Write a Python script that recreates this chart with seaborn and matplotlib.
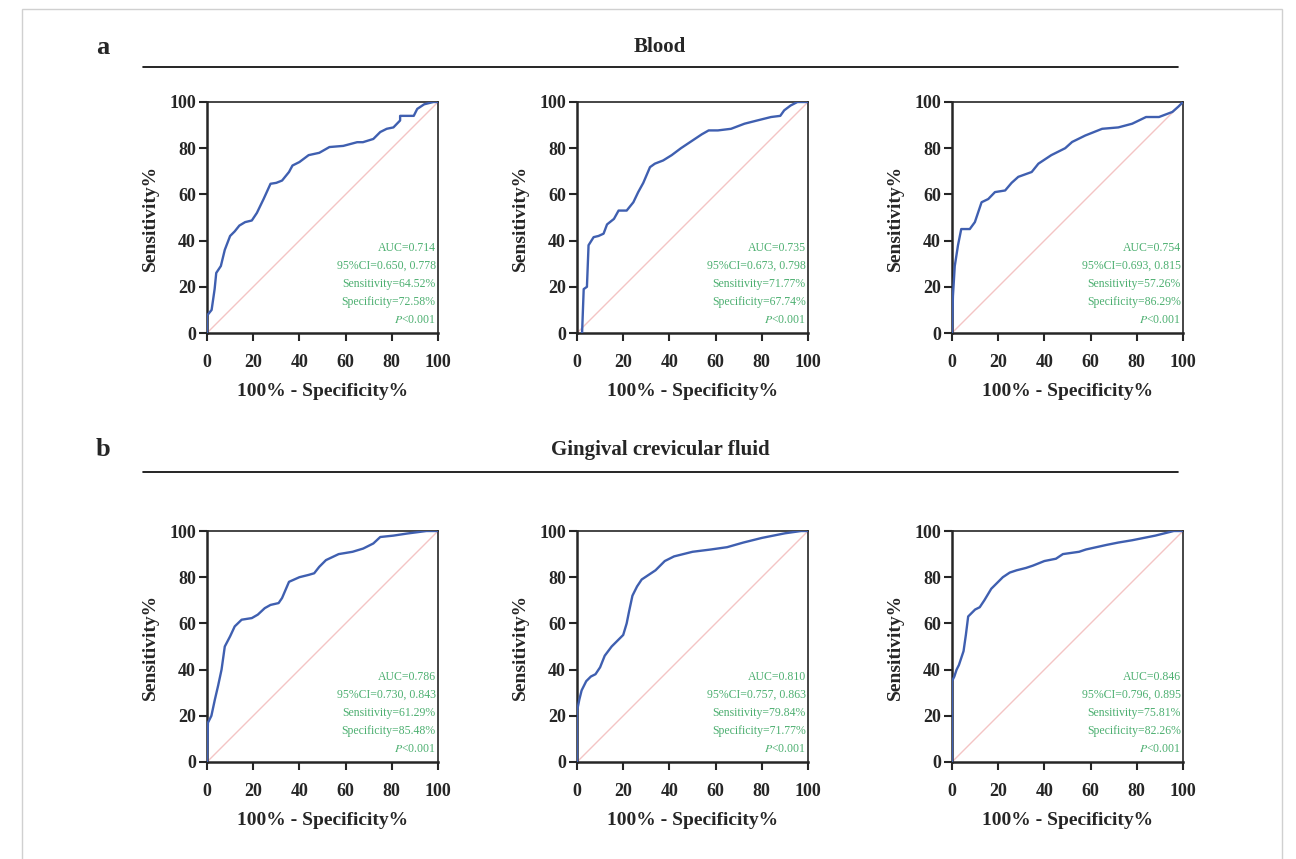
"""
ROC curves for blood and gingival crevicular fluid markers.
"""

import matplotlib
matplotlib.use("Agg")
import matplotlib.pyplot as plt
import pandas as pd
import seaborn as sns

# ---- data (x = 100% - specificity%, y = sensitivity%) ----
BLOOD_1_X = [0, 0, 2, 3.3, 4, 6, 7.7, 10, 12, 14, 16.5, 19.4, 21.6, 24.5, 27.5, 30, 32.5, 35.5, 37,
             40, 44, 48.6, 53, 59, 65, 67.5, 72, 75, 77.8, 80.7, 83.6, 83.6, 89.5, 91, 94, 98, 100]
BLOOD_1_Y = [0, 7.5, 10, 19, 26, 29, 36, 42, 44, 46.5, 48, 48.7, 52, 58, 64.6, 65, 66, 69.7, 72.5,
             74, 77, 78, 80.5, 81, 82.6, 82.6, 84, 87, 88.4, 89, 92, 94, 94, 97, 99, 100, 100]

BLOOD_2_X = [2.2, 2.9, 4.3, 5, 7.2, 9.3, 11.5, 13, 16, 18, 21.5, 24.4, 26.5, 28.7, 31.6, 33.7, 37.3,
             41, 45, 49.5, 54, 57, 61, 66.7, 72.5, 78, 84, 88, 89.7, 92.5, 95.4, 100]
BLOOD_2_Y = [0, 19, 20, 38, 41.5, 42, 43, 47, 49.4, 53, 53, 56.6, 61, 65, 71.8, 73.3, 74.7,
             77, 80, 83, 86, 87.7, 87.7, 88.4, 90.6, 92, 93.5, 94, 96.4, 98.5, 100, 100]

BLOOD_3_X = [0, 0.4, 1.2, 2.6, 4, 7.7, 9.9, 12.8, 15.7, 18.6, 23, 25.8, 28.7, 34.5, 37.4, 43, 49,
             52, 57.7, 65, 72, 78, 84, 89.6, 95.4, 98, 100]
BLOOD_3_Y = [0, 16, 29, 38, 45, 45, 48, 56.6, 58, 61, 61.7, 65, 67.6, 69.7, 73.3, 77, 80,
             82.7, 85.5, 88.4, 89, 90.6, 93.5, 93.5, 95.7, 98, 100]

GCF_1_X = [0, 0.4, 1.9, 3.4, 4.8, 6.3, 7.7, 10, 12, 15, 19.4, 22, 25, 27.5, 31, 32.5, 35.5, 40, 44,
           46.4, 48.6, 51.5, 57, 63, 67.6, 72, 75, 80.7, 86.6, 95, 100]
GCF_1_Y = [0, 17, 20, 27, 33, 40, 50, 54.4, 58.7, 61.6, 62.3, 63.8, 66.6, 68, 68.8, 71, 78, 80, 81,
           81.7, 84.5, 87.4, 90, 91, 92.4, 94.6, 97.4, 98, 98.9, 100, 100]

GCF_2_X = [0, 0, 1, 2, 4, 6, 8, 10, 12, 15, 18, 20, 21.5, 22.5, 24, 26, 28, 31, 34, 38, 42, 46,
           50, 58, 65, 72, 80, 90, 97, 100]
GCF_2_Y = [0, 22, 27, 31, 35, 37, 38, 41, 46, 50, 53, 55, 60, 65, 72, 76, 79, 81, 83, 87, 89, 90,
           91, 92, 93, 95, 97, 99, 100, 100]

GCF_3_X = [0, 0, 1, 2, 3, 4, 5, 6, 7, 10, 12, 14, 17, 20, 22, 25, 28, 32, 35, 40, 45, 48, 55, 58,
           67, 72, 78, 88, 96, 100]
GCF_3_Y = [0, 35, 37, 40, 42, 45, 48, 55, 63, 66, 67, 70, 75, 78, 80, 82, 83, 84, 85, 87, 88, 90,
           91, 92, 94, 95, 96, 98, 100, 100]

STATS = [
    ["AUC=0.714", "95%CI=0.650, 0.778", "Sensitivity=64.52%", "Specificity=72.58%"],
    ["AUC=0.735", "95%CI=0.673, 0.798", "Sensitivity=71.77%", "Specificity=67.74%"],
    ["AUC=0.754", "95%CI=0.693, 0.815", "Sensitivity=57.26%", "Specificity=86.29%"],
    ["AUC=0.786", "95%CI=0.730, 0.843", "Sensitivity=61.29%", "Specificity=85.48%"],
    ["AUC=0.810", "95%CI=0.757, 0.863", "Sensitivity=79.84%", "Specificity=71.77%"],
    ["AUC=0.846", "95%CI=0.796, 0.895", "Sensitivity=75.81%", "Specificity=82.26%"],
]
P_TEXT = "$\\it{P}$<0.001"

CURVES = [(BLOOD_1_X, BLOOD_1_Y), (BLOOD_2_X, BLOOD_2_Y), (BLOOD_3_X, BLOOD_3_Y),
          (GCF_1_X, GCF_1_Y), (GCF_2_X, GCF_2_Y), (GCF_3_X, GCF_3_Y)]
TICKS = [0, 20, 40, 60, 80, 100]

LINE_COLOR = "#3f5fb0"
DIAG_COLOR = "#f4c4c4"
TEXT_GREEN = "#4caf70"

sns.set_style("ticks")
plt.rcParams["font.family"] = ["Liberation Serif", "DejaVu Serif"]
plt.rcParams["mathtext.fontset"] = "stix"

fig = plt.figure(figsize=(12.96, 8.59), dpi=100)
W, H = 1296.0, 859.0

lefts = [207, 577, 952]
bottoms = [333, 762]
size = 231

for i, (xs, ys) in enumerate(CURVES):
    row, col = divmod(i, 3)
    ax = fig.add_axes([lefts[col] / W, 1 - bottoms[row] / H, size / W, size / H])
    ax.plot([0, 100], [0, 100], color=DIAG_COLOR, lw=1.0, zorder=1)
    df = pd.DataFrame({"x": xs, "y": ys})
    sns.lineplot(data=df, x="x", y="y", sort=False, estimator=None,
                 color=LINE_COLOR, lw=1.7, ax=ax, zorder=3)
    ax.set_xlim(0, 100)
    ax.set_ylim(0, 100)
    ax.set_xticks(TICKS)
    ax.set_yticks(TICKS)
    ax.set_xticklabels([str(t) for t in TICKS], fontweight="bold", fontsize=13)
    ax.set_yticklabels([str(t) for t in TICKS], fontweight="bold", fontsize=13)
    ax.set_xlabel("100% - Specificity%", fontweight="bold", fontsize=14, labelpad=9)
    ax.set_ylabel("Sensitivity%", fontweight="bold", fontsize=14, labelpad=7)
    for side in ["left", "bottom"]:
        ax.spines[side].set_linewidth(1.8)
    for side in ["top", "right"]:
        ax.spines[side].set_linewidth(1.2)
    ax.tick_params(width=1.5, length=6, direction="out", pad=2)
    ax.tick_params(axis="x", pad=9)

    lines = STATS[i] + [P_TEXT]
    for k, txt in enumerate(lines):
        ax.text(99, 37 - k * 7.8, txt, color=TEXT_GREEN, fontsize=8.5,
                ha="right", va="center", zorder=4)

# section headers
for label, title, y_lab, y_line in [("a", "Blood", 47, 67), ("b", "Gingival crevicular fluid", 450, 472)]:
    fig.text(96 / W, 1 - y_lab / H, label, fontsize=19, fontweight="bold", va="center")
    fig.text(660 / W, 1 - y_lab / H, title, fontsize=15, fontweight="bold", ha="center", va="center")
    fig.add_artist(plt.Line2D([143 / W, 1178 / W], [1 - y_line / H, 1 - y_line / H],
                              color="black", lw=1.2))

# light outer frame
fig.add_artist(plt.Rectangle((22 / W, -0.01), 1260 / W, 1.0, fill=False,
                             edgecolor="#d0d0d0", lw=1.0))

fig.savefig("out.png", dpi=100)
